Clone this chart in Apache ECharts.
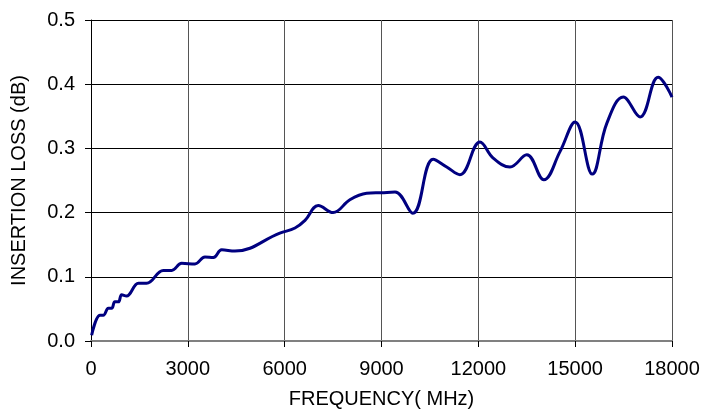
<!DOCTYPE html>
<html lang="en">
<head>
  <meta charset="UTF-8">
  <title>Insertion Loss</title>
  <script src="https://cdn.jsdelivr.net/npm/echarts@6/dist/echarts.min.js"></script>
  <style>
    html, body { margin: 0; padding: 0; background: #fff; }
    #main { width: 704px; height: 414px; }
  </style>
</head>
<body>
  <div id="main"></div>
  <script type="text/javascript">
    // frequency (MHz) and insertion loss (dB)
    var freq = [20, 280, 380, 540, 640, 740, 850, 950, 1100, 1470, 1720, 2240, 2500, 2810, 3220, 3530, 3790, 4050, 4460,
                5850, 6320, 6630, 7040, 7500, 8020, 8540, 9000, 9420, 9970, 10600, 11020, 11430, 12050, 12460, 12980,
                13500, 14030, 14530, 15000, 15530, 15980, 16490, 17010, 17570, 18000];
    var loss = [0.009, 0.040, 0.040, 0.051, 0.051, 0.061, 0.061, 0.072, 0.070, 0.090, 0.090, 0.110, 0.110, 0.121, 0.120, 0.131, 0.130, 0.142, 0.140,
                0.168, 0.176, 0.188, 0.211, 0.200, 0.220, 0.230, 0.231, 0.232, 0.199, 0.283, 0.271, 0.259, 0.310, 0.285, 0.271,
                0.290, 0.251, 0.295, 0.341, 0.260, 0.339, 0.380, 0.349, 0.411, 0.380];

    var pts = freq.map(function (f, i) { return [f, loss[i]]; });

    var font = 'Liberation Sans, Arial, sans-serif';
    var myChart = echarts.init(document.getElementById('main'));
    myChart.setOption({
      animation: false,
      grid: { left: 91, right: 32, top: 20, bottom: 73 },
      xAxis: {
        type: 'value', min: 0, max: 18000, interval: 3000,
        name: 'FREQUENCY( MHz)', nameLocation: 'middle', nameGap: 48,
        nameTextStyle: { color: '#000', fontSize: 20, fontFamily: font },
        axisLine: { lineStyle: { color: '#808080', width: 2 } },
        axisTick: { show: true, length: 6, lineStyle: { color: '#000' } },
        axisLabel: { color: '#000', fontSize: 20, fontFamily: font, margin: 18,
          formatter: function (v) { return String(v); } },
        splitLine: { show: true, lineStyle: { color: '#555', width: 1 } }
      },
      yAxis: {
        type: 'value', min: 0, max: 0.5, interval: 0.1,
        name: 'INSERTION LOSS (dB)', nameLocation: 'middle', nameGap: 62, nameRotate: 90,
        nameTextStyle: { color: '#000', fontSize: 20, fontFamily: font },
        axisLine: { show: true, lineStyle: { color: '#000', width: 1 } },
        axisTick: { show: true, length: 6, lineStyle: { color: '#000' } },
        axisLabel: { color: '#000', fontSize: 20, fontFamily: font, margin: 16,
          formatter: function (v) { return v.toFixed(1); } },
        splitLine: { show: true, lineStyle: { color: '#000', width: 1 } }
      },
      series: [{
        type: 'line',
        data: pts,
        smooth: 0.4,
        symbol: 'none',
        lineStyle: { color: '#000080', width: 3 }
      }]
    });
  </script>
</body>
</html>
